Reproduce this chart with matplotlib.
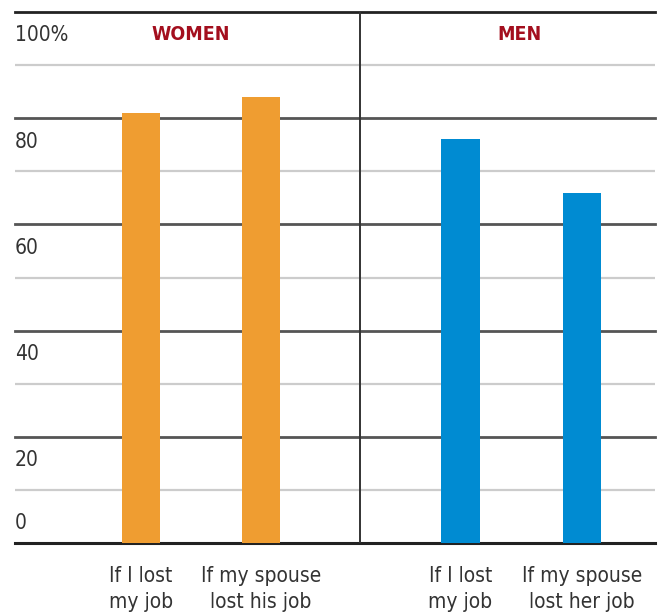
import matplotlib.pyplot as plt

groups = ["WOMEN", "MEN"]
labels = ["If I lost\nmy job", "If my spouse\nlost his job",
          "If I lost\nmy job", "If my spouse\nlost her job"]
values = [81, 84, 76, 66]
colors = ["#ef9d31", "#ef9d31", "#008bd2", "#008bd2"]
yticks = [0, 20, 40, 60, 80, 100]
ytick_labels = ["0", "20", "40", "60", "80", "100%"]

xpos = [0, 1, 2.66, 3.67]

fig = plt.figure(figsize=(6.62, 6.16), dpi=100)
ax = fig.add_axes([15 / 662, 1 - 543 / 616, 640 / 662, 531 / 616])
ax.set_xlim(-1.05, 4.28)
ax.set_ylim(0, 100)
ax.axis("off")

# no narrow font installed, condensed DejaVu is the closest
font = dict(family="DejaVu Sans", stretch="condensed")

for v in range(10, 100, 20):
    ax.axhline(v, color="#cccccc", lw=1.6, zorder=1)
for v in yticks:
    ax.axhline(v, color="#555555" if v not in (0, 100) else "#222222",
               lw=2 if v != 0 else 2.2, zorder=1, clip_on=False)
ax.axvline(1.825, color="#333333", lw=1.4, zorder=1)

ax.bar(xpos, values, width=0.32, color=colors, zorder=2)

for v, t in zip(yticks, ytick_labels):
    yy = v - 4.4 if v > 0 else 3.8
    ax.text(-1.05, yy, t, ha="left", va="center", fontsize=15,
            color="#333333", **font)

ax.text(0.41, 95.7, groups[0], ha="center", va="center", fontsize=14,
        color="#a30f1e", fontweight="bold", **font)
ax.text(3.15, 95.7, groups[1], ha="center", va="center", fontsize=14,
        color="#a30f1e", fontweight="bold", **font)

for x, lab in zip(xpos, labels):
    ax.text(x, -4.3, lab, ha="center", va="top", fontsize=15,
            color="#333333", linespacing=1.4, **font)

fig.savefig("out.png", dpi=100)
